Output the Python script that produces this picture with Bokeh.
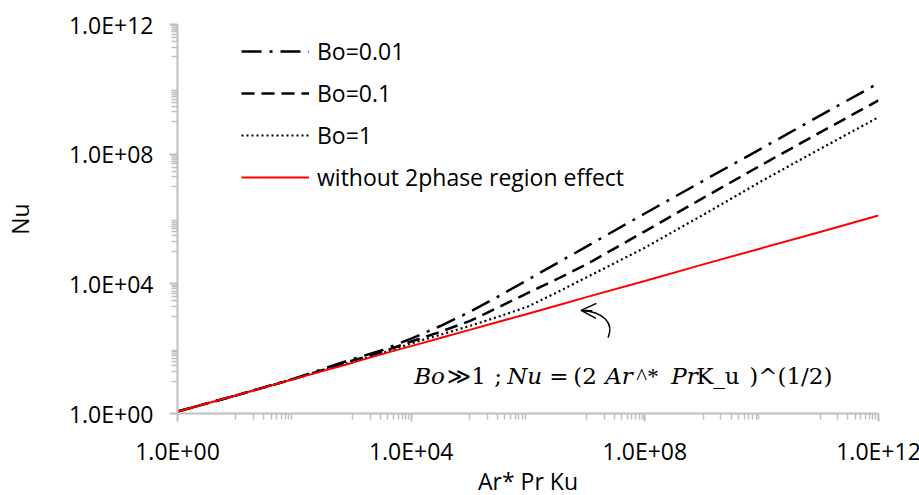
from bokeh.plotting import figure
from bokeh.models import (Range1d, FixedTicker, CustomJSTickFormatter, Legend, LegendItem,
                          Label, Arrow, OpenHead)
from bokeh.embed import file_html
from bokeh.resources import INLINE

# ---- data ----
ar_pr_ku = [1, 10, 100, 1e3, 3162, 1e4, 31623, 1e5, 316228, 1e6, 3162278, 1e7,
            1e8, 1e9, 1e10, 1e11, 1e12]
nu_bo_001 = [1.15, 3.6, 12, 48, 89, 204, 500, 1350, 4170, 13500, 43600, 141000,
             1.48e6, 1.51e7, 1.51e8, 1.55e9, 1.55e10]
nu_bo_01 = [1.15, 3.6, 11.7, 43, 79, 166, 331, 708, 1905, 5250, 14100, 39800,
            417000, 4.47e6, 4.68e7, 4.68e8, 4.57e9]
nu_bo_1 = [1.15, 3.6, 11.7, 40, 72, 145, 269, 501, 977, 1995, 5500, 15800,
           130000, 1.35e6, 1.48e7, 1.45e8, 1.38e9]
nu_no_2phase = [1.15, 3.6, 11.7, 37, 68, 120, 214, 380, 676, 1200, 2140, 3890,
                12300, 39800, 126000, 398000, 1.29e6]

series_labels = ["Bo=0.01", "Bo=0.1", "Bo=1", "without 2phase region effect"]
major_ticks = [1, 1e4, 1e8, 1e12]
tick_labels = ["1.0E+00", "1.0E+04", "1.0E+08", "1.0E+12"]
minor_ticks = [j * 10.0 ** d for d in (1, 3, 5, 7, 9, 11) for j in range(1, 10)]

FONT = "Open Sans"
GRAY = "#BFBFBF"

p = figure(x_axis_type="log", y_axis_type="log",
           x_range=Range1d(1, 1e12), y_range=Range1d(1, 1e12),
           frame_width=701, frame_height=389,
           min_border_left=173, min_border_right=45, min_border_top=24, min_border_bottom=82,
           output_backend="svg", toolbar_location=None,
           background_fill_color="white", border_fill_color="white")
p.outline_line_color = None
p.xgrid.visible = False
p.ygrid.visible = False

fmt = CustomJSTickFormatter(args=dict(majors=major_ticks, labs=tick_labels), code="""
const i = majors.findIndex(t => Math.abs(Math.log10(t) - Math.log10(tick)) < 1e-6);
return i >= 0 ? labs[i] : '';
""")
for ax in (p.xaxis[0], p.yaxis[0]):
    ax.ticker = FixedTicker(ticks=major_ticks, minor_ticks=minor_ticks)
    ax.formatter = fmt
    ax.axis_line_color = GRAY
    ax.axis_line_width = 2
    ax.major_tick_line_color = GRAY
    ax.major_tick_line_width = 2
    ax.major_tick_out = 8
    ax.major_tick_in = 0
    ax.minor_tick_line_color = GRAY
    ax.minor_tick_line_width = 1.5
    ax.minor_tick_out = 6
    ax.minor_tick_in = 0
    ax.major_label_text_font = FONT
    ax.major_label_text_font_size = "23px"
    ax.major_label_text_color = "black"
    ax.axis_label_text_font = FONT
    ax.axis_label_text_font_size = "23px"
    ax.axis_label_text_font_style = "normal"
    ax.axis_label_text_color = "black"
p.xaxis[0].major_label_standoff = 13
p.xaxis[0].axis_label = "Ar* Pr Ku"
p.xaxis[0].axis_label_standoff = -5
p.yaxis[0].major_label_standoff = 16
p.yaxis[0].axis_label = "Nu"
p.yaxis[0].axis_label_standoff = 30

r1 = p.line(ar_pr_ku, nu_bo_001, line_color="black", line_width=2.5, line_dash="20 8 3 8")
r2 = p.line(ar_pr_ku, nu_bo_01, line_color="black", line_width=2.5, line_dash="13 7")
r3 = p.line(ar_pr_ku, nu_bo_1, line_color="black", line_width=2.2, line_dash="2 3")
r4 = p.line(ar_pr_ku, nu_no_2phase, line_color="#FF0000", line_width=2)

legend = Legend(items=[LegendItem(label=l, renderers=[r]) for l, r in
                       zip(series_labels, [r1, r2, r3, r4])],
                location=(64, 220), orientation="vertical",
                label_text_font=FONT, label_text_font_size="23px", label_text_color="black",
                glyph_width=68, glyph_height=32, label_height=32, label_standoff=8,
                spacing=10, padding=0, margin=0,
                border_line_color=None, background_fill_alpha=0)
p.add_layout(legend)

# formula annotation: (piece, x offset in px from anchor, italic, font)
SERIF = "DejaVu Serif"
formula = [("Bo", 3, True, SERIF), ("\u226b1", 36, False, SERIF), (";", 83, False, SERIF),
           ("Nu", 96, True, SERIF), ("=", 138, False, SERIF), ("(2", 162, False, SERIF),
           ("Ar", 194, True, SERIF), ("^", 225, False, "Liberation Serif"),
           ("*", 236, False, "Liberation Serif"), ("Pr", 260, True, SERIF),
           ("K_u", 285, False, SERIF), (")^(1/2)", 338, False, SERIF)]
for txt, dx, it, fnt in formula:
    p.add_layout(Label(x=1e4, y=10 ** 1.15, x_offset=dx, text=txt, text_align="left",
                       text_baseline="alphabetic", text_font=fnt,
                       text_font_size="23px", text_color="black",
                       text_font_style="italic" if it else "normal"))

# curved arrow pointing at the red line
p.bezier(x0=[10 ** 6.91], y0=[10 ** 3.18], x1=[10 ** 7.37], y1=[10 ** 2.34],
         cx0=[10 ** 7.29], cy0=[10 ** 3.15], cx1=[10 ** 7.48], cy1=[10 ** 2.78],
         line_color="black", line_width=1.5)
p.add_layout(Arrow(x_start=10 ** 7.10, y_start=10 ** 3.17, x_end=10 ** 6.91, y_end=10 ** 3.18,
                   line_color="black", line_width=1.5,
                   end=OpenHead(size=15, line_width=1.5, line_color="black")))

open("out.html", "w").write(file_html(p, INLINE))
